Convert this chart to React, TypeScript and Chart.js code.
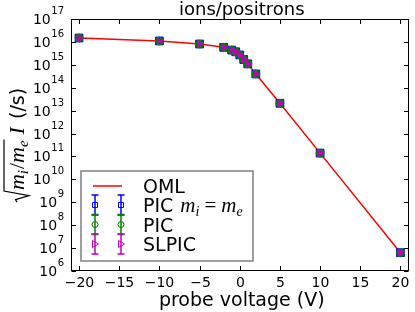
import React, { useEffect, useRef } from "react";
import { Chart, registerables } from "chart.js";

Chart.register(...registerables);

// ---- data ----
const voltages = [-20, -10, -5, -2, -1, -0.5, 0, 0.5, 1, 2, 5, 10, 20];
const omlCurrent = [1.48e16, 1.1e16, 8.1e15, 5.8e15, 4.4e15, 3.7e15, 2.7e15, 1.7e15, 1.1e15, 4.0e14, 2.1e13, 1.4e11, 6.3e6];
const picEqualMassCurrent = [1.48e16, 1.1e16, 8.1e15, 5.8e15, 4.4e15, 3.7e15, 2.7e15, 1.7e15, 1.1e15, 4.0e14, 2.1e13, 1.4e11, 6.3e6];
const picCurrent = [1.48e16, 1.1e16, 8.1e15, 5.8e15, 4.4e15, 3.7e15, 2.7e15, 1.7e15, 1.1e15, 4.0e14, 2.1e13, 1.4e11, 6.3e6];
const slpicCurrent = [1.48e16, 1.1e16, 8.1e15, 5.8e15, 4.4e15, 3.7e15, 2.7e15, 1.7e15, 1.1e15, 4.0e14, 2.1e13, 1.4e11, 6.3e6];

const xTicks = [-20, -15, -10, -5, 0, 5, 10, 15, 20];
const yExponents = [6, 7, 8, 9, 10, 11, 12, 13, 14, 15, 16, 17];

const titleText = "ions/positrons";
const xTitleText = "probe voltage (V)";

const SANS = "'DejaVu Sans', sans-serif";
const MATH = "'Liberation Serif', serif";

const RED = "#ff0000";
const BLUE = "#0000ff";
const GREEN = "#008000";
const MAGENTA = "#bf00bf";

type Part = { t: string; f: string; dy?: number; gap?: number };

function partsWidth(ctx: CanvasRenderingContext2D, parts: Part[]) {
  let w = 0;
  for (const p of parts) {
    ctx.font = p.f;
    w += ctx.measureText(p.t).width + (p.gap || 0);
  }
  return w;
}

function drawParts(ctx: CanvasRenderingContext2D, parts: Part[], x: number, y: number) {
  for (const p of parts) {
    ctx.font = p.f;
    ctx.fillText(p.t, x, y + (p.dy || 0));
    x += ctx.measureText(p.t).width + (p.gap || 0);
  }
  return x;
}

function errHandle(ctx: CanvasRenderingContext2D, x: number, yc: number, color: string, marker: string) {
  ctx.save();
  ctx.strokeStyle = color;
  ctx.lineWidth = 1.5;
  ctx.beginPath();
  ctx.moveTo(x, yc - 10);
  ctx.lineTo(x, yc + 10);
  ctx.moveTo(x - 3.5, yc - 10);
  ctx.lineTo(x + 3.5, yc - 10);
  ctx.moveTo(x - 3.5, yc + 10);
  ctx.lineTo(x + 3.5, yc + 10);
  ctx.stroke();
  ctx.lineWidth = 1;
  ctx.beginPath();
  if (marker === "rect") {
    ctx.rect(x - 2.5, yc - 2.5, 5, 5);
  } else if (marker === "circle") {
    ctx.arc(x, yc, 3, 0, Math.PI * 2);
  } else {
    ctx.moveTo(x + 3.5, yc);
    ctx.lineTo(x - 2.5, yc - 3.5);
    ctx.lineTo(x - 2.5, yc + 3.5);
    ctx.closePath();
  }
  ctx.stroke();
  ctx.restore();
}

const decorPlugin = {
  id: "decor",
  afterDatasetsDraw(chart: any) {
    const { ctx, chartArea: a, scales } = chart;
    const xs = scales.x;
    const ys = scales.y;
    ctx.save();
    ctx.fillStyle = "#000";
    ctx.strokeStyle = "#000";
    ctx.lineWidth = 1;
    const L = Math.round(a.left) + 0.5;
    const R = Math.round(a.right) - 0.5;
    const T = Math.round(a.top) + 0.5;
    const B = Math.round(a.bottom) - 0.5;
    ctx.strokeRect(L, T, R - L, B - T);

    // x ticks
    ctx.font = `14px ${SANS}`;
    ctx.textAlign = "center";
    ctx.textBaseline = "alphabetic";
    for (const v of xTicks) {
      const px = Math.round(xs.getPixelForValue(v)) + 0.5;
      ctx.beginPath();
      ctx.moveTo(px, B);
      ctx.lineTo(px, B - 4.5);
      ctx.moveTo(px, T);
      ctx.lineTo(px, T + 4.5);
      ctx.stroke();
      ctx.fillText(v < 0 ? "\u2212" + Math.abs(v) : String(v), px, 287);
    }

    // y ticks
    for (const e of yExponents) {
      const py = Math.round(ys.getPixelForValue(Math.pow(10, e))) + 0.5;
      ctx.beginPath();
      ctx.moveTo(L, py);
      ctx.lineTo(L + 4.5, py);
      ctx.moveTo(R, py);
      ctx.lineTo(R - 4.5, py);
      ctx.stroke();
      ctx.textAlign = "left";
      ctx.font = `10px ${SANS}`;
      const ew = ctx.measureText(String(e)).width;
      ctx.fillText(String(e), 64 - ew, py - 5.5);
      ctx.font = `14px ${SANS}`;
      ctx.textAlign = "right";
      ctx.fillText("10", 64 - ew - 0.5, py + 4);
    }

    // title
    ctx.textAlign = "center";
    ctx.font = `18px ${SANS}`;
    ctx.fillText(titleText, (a.left + a.right) / 2 + 2, 14.5);
    // x title
    ctx.font = `19px ${SANS}`;
    ctx.fillText(xTitleText, (a.left + a.right) / 2 + 2, 306);

    // y title (rotated)
    ctx.save();
    ctx.translate(24, (a.top + a.bottom) / 2);
    ctx.rotate(-Math.PI / 2);
    ctx.textAlign = "left";
    const inner: Part[] = [
      { t: "m", f: `italic 22px ${MATH}` },
      { t: "i", f: `italic 15px ${MATH}`, dy: 4, gap: 1 },
      { t: "/", f: `22px ${MATH}` },
      { t: "m", f: `italic 22px ${MATH}` },
      { t: "e", f: `italic 15px ${MATH}`, dy: 4, gap: 6 },
    ];
    const outer: Part[] = [
      { t: "I", f: `italic 22px ${MATH}`, gap: 2 },
      { t: " (/s)", f: `19px ${SANS}` },
    ];
    const sq = 12;
    const wIn = partsWidth(ctx, inner);
    const wOut = partsWidth(ctx, outer);
    const total = sq + wIn + wOut;
    const x0 = -total / 2;
    ctx.lineWidth = 1.2;
    ctx.beginPath();
    ctx.moveTo(x0, -7);
    ctx.lineTo(x0 + 2.5, -8.5);
    ctx.lineTo(x0 + 6.5, 5);
    ctx.lineTo(x0 + 11, -20);
    ctx.lineTo(x0 + sq + wIn - 5, -20);
    ctx.stroke();
    const xx = drawParts(ctx, inner, x0 + sq, 0);
    drawParts(ctx, outer, xx, 0);
    ctx.restore();

    // legend
    ctx.fillStyle = "#fff";
    ctx.fillRect(81, 171, 172, 90);
    ctx.strokeStyle = "#7f7f7f";
    ctx.lineWidth = 1.5;
    ctx.strokeRect(81, 171, 172, 90);

    ctx.strokeStyle = RED;
    ctx.lineWidth = 1.5;
    ctx.beginPath();
    ctx.moveTo(93, 186);
    ctx.lineTo(122, 186);
    ctx.stroke();

    errHandle(ctx, 95, 205, BLUE, "rect");
    errHandle(ctx, 121, 205, BLUE, "rect");
    errHandle(ctx, 95, 224.5, GREEN, "circle");
    errHandle(ctx, 121, 224.5, GREEN, "circle");
    errHandle(ctx, 95, 244, MAGENTA, "tri");
    errHandle(ctx, 121, 244, MAGENTA, "tri");

    ctx.fillStyle = "#000";
    ctx.textAlign = "left";
    ctx.font = `19px ${SANS}`;
    ctx.fillText("OML", 143, 193);
    drawParts(
      ctx,
      [
        { t: "PIC ", f: `19px ${SANS}`, gap: 1 },
        { t: "m", f: `italic 21px ${MATH}` },
        { t: "i", f: `italic 14px ${MATH}`, dy: 4, gap: 5 },
        { t: "=", f: `21px ${MATH}`, gap: 5 },
        { t: "m", f: `italic 21px ${MATH}` },
        { t: "e", f: `italic 14px ${MATH}`, dy: 4 },
      ],
      143,
      212
    );
    ctx.font = `19px ${SANS}`;
    ctx.fillText("PIC", 143, 232);
    ctx.fillText("SLPIC", 143, 251);
    ctx.restore();
  },
};

function pts(ys: number[]) {
  return voltages.map((v, i) => ({ x: v, y: ys[i] }));
}

export default function App() {
  const ref = useRef<HTMLCanvasElement | null>(null);
  useEffect(() => {
    document.body.style.margin = "0";
    const canvas = ref.current!;
    const chart = new Chart(canvas, {
      type: "scatter",
      data: {
        datasets: [
          {
            label: "SLPIC",
            data: pts(slpicCurrent),
            pointStyle: "triangle",
            pointRotation: 90,
            pointRadius: 3.8,
            pointBackgroundColor: MAGENTA,
            pointBorderColor: MAGENTA,
            pointBorderWidth: 1,
            clip: false,
          } as any,
          {
            label: "PIC",
            data: pts(picCurrent),
            pointStyle: "circle",
            pointRadius: 4,
            pointBackgroundColor: GREEN,
            pointBorderColor: GREEN,
            pointBorderWidth: 1,
            clip: false,
          } as any,
          {
            label: "PIC mi=me",
            data: pts(picEqualMassCurrent),
            pointStyle: "rect",
            pointRadius: 5.5,
            pointBackgroundColor: BLUE,
            pointBorderColor: BLUE,
            pointBorderWidth: 1,
            clip: false,
          } as any,
          {
            label: "OML",
            data: pts(omlCurrent),
            showLine: true,
            borderColor: RED,
            borderWidth: 1.5,
            pointRadius: 0,
            tension: 0,
          } as any,
        ],
      },
      options: {
        animation: false,
        responsive: false,
        devicePixelRatio: 1,
        events: [],
        layout: { padding: { left: 71, top: 19, right: 4, bottom: 41 } },
        plugins: {
          legend: { display: false },
          tooltip: { enabled: false },
          title: { display: false },
        },
        scales: {
          x: {
            type: "linear",
            min: -21,
            max: 21,
            display: false,
          },
          y: {
            type: "logarithmic",
            min: 1e6,
            max: 1e17,
            display: false,
          },
        },
      },
      plugins: [decorPlugin],
    } as any);
    return () => chart.destroy();
  }, []);
  return (
    <canvas
      ref={ref}
      width={415}
      height={312}
      style={{ display: "block", width: 415, height: 312 }}
    />
  );
}
